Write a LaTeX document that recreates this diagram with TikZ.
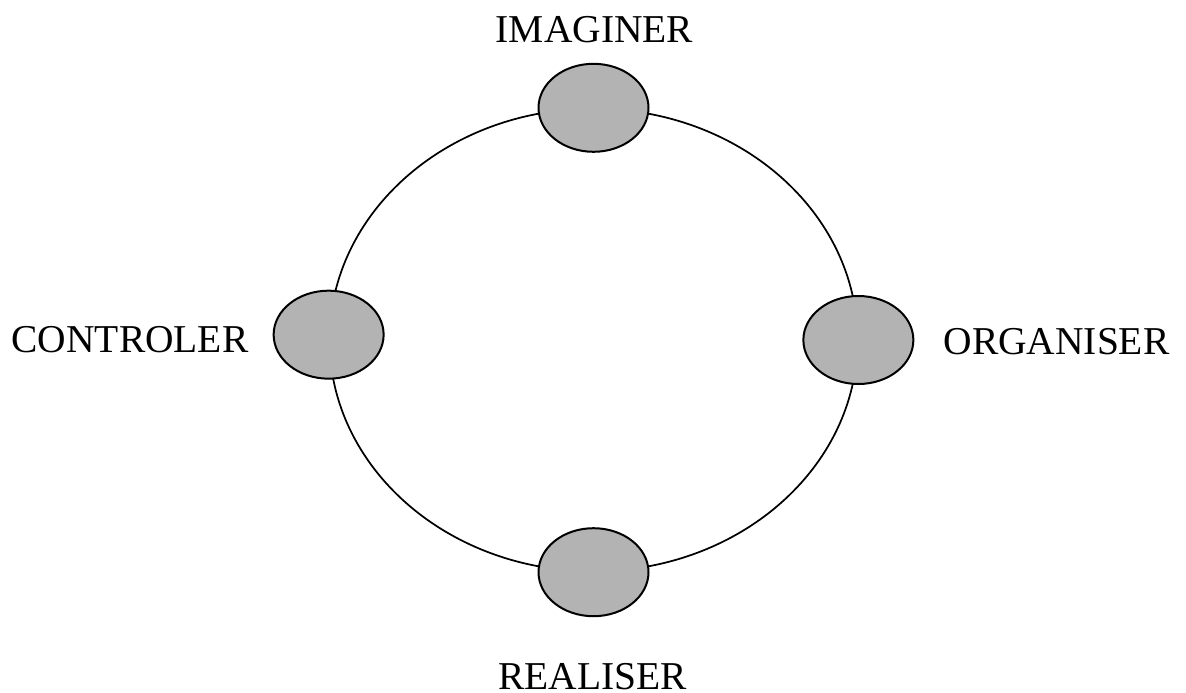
\documentclass[tikz,border=0pt]{standalone}
\usepackage{fontspec}
\setmainfont{Liberation Serif}
\usetikzlibrary{shapes.geometric}
\definecolor{phasegray}{RGB}{179,179,179}
\tikzset{
    ring/.style={ellipse, draw, line width=1.3pt, inner sep=0pt,
        minimum width=396pt, minimum height=347pt},
    phase/.style={ellipse, draw, line width=1.5pt, fill=phasegray, inner sep=0pt,
        minimum width=82.5pt, minimum height=66pt},
    phaselabel/.style={font=\fontsize{29.6}{36}\selectfont, inner sep=0pt, anchor=base}
}
\begin{document}
\begin{tikzpicture}[x=0.75pt, y=-0.75pt]
    \useasboundingbox (0,0) rectangle (1186,693);
    \node[ring] (cycle) at (593.5,340) {};
    \node[phase] (imaginer) at (cycle.north) {};
    \node[phase] (organiser) at (cycle.east) {};
    \node[phase] (realiser) at (cycle.south) {};
    \node[phase] (controler) at ([yshift=4pt]cycle.west) {};
    \node[phaselabel] (imaginerlbl) at (594.5,42) {IMAGINER};
    \node[phaselabel] (organiserlbl) at (1056.5,354) {ORGANISER};
    \node[phaselabel] (realiserlbl) at (592.5,689) {REALISER};
    \node[phaselabel] (controlerlbl) at (130,352) {CONTROLER};
\end{tikzpicture}
\end{document}
